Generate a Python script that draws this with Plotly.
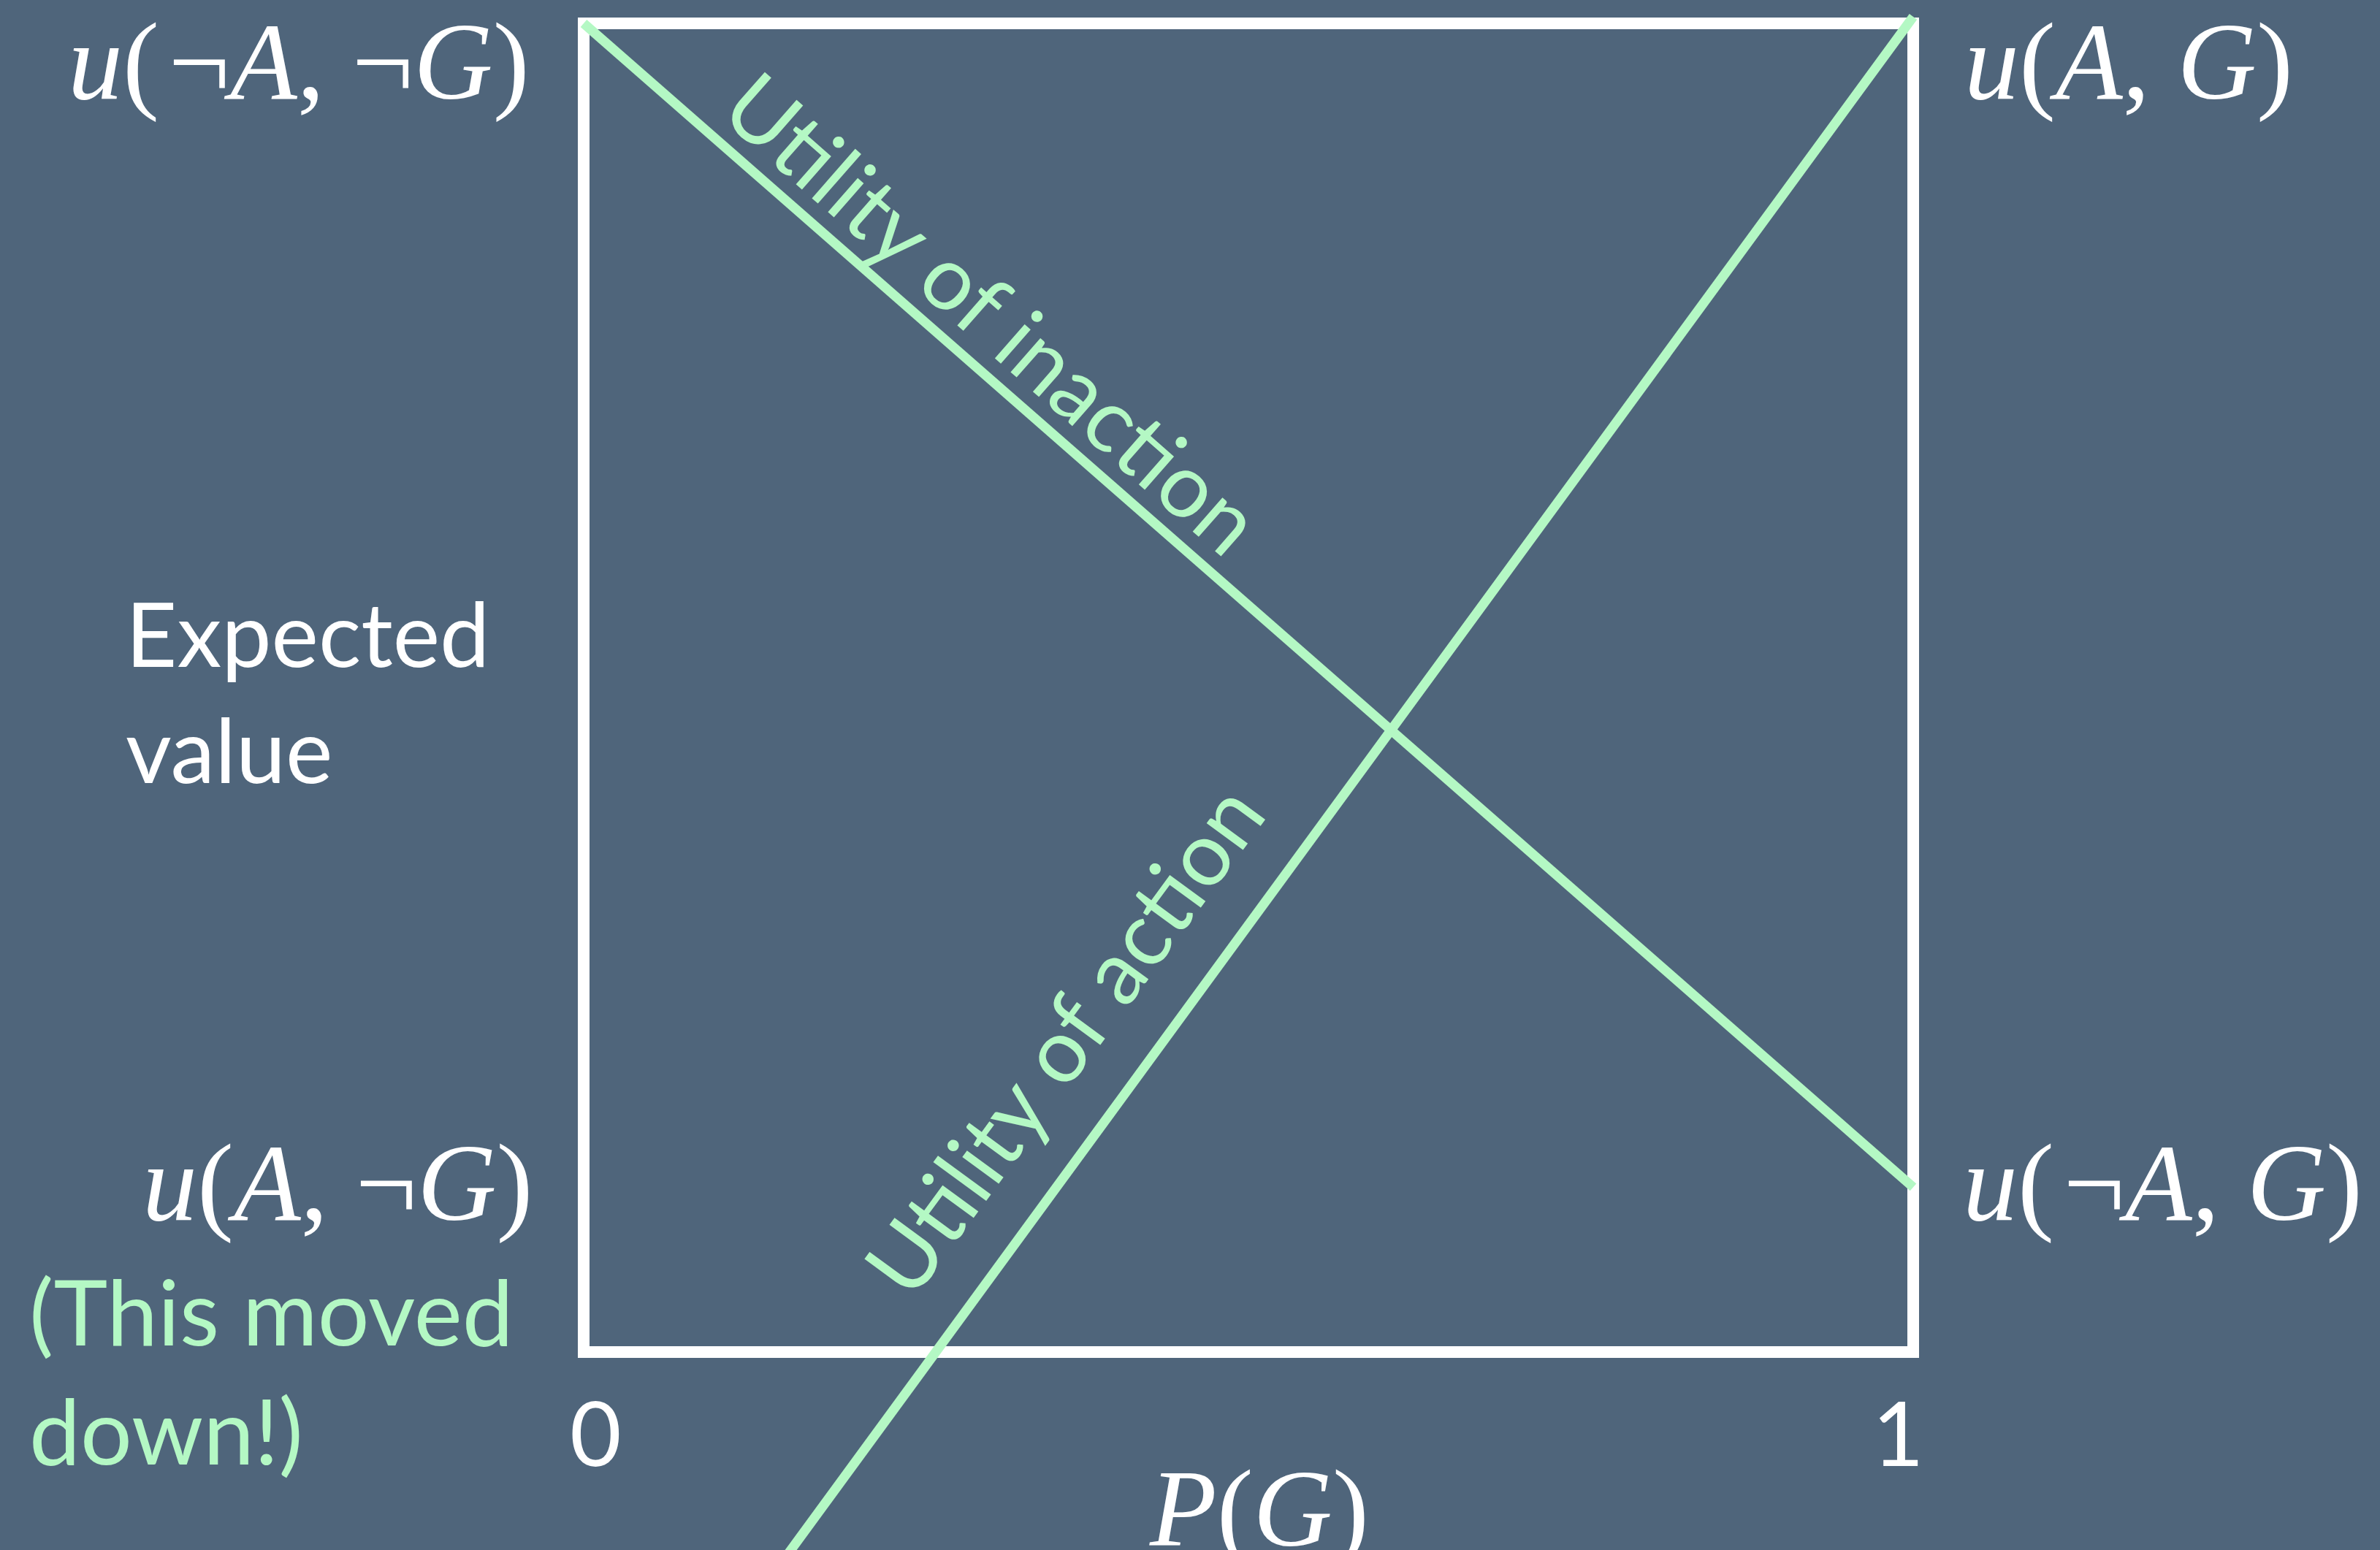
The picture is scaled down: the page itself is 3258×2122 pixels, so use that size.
import math
import plotly.graph_objects as go

# ---------------- data ----------------
p_g = [0, 1]                         # P(G) at the two ends of the box
utility_inaction = [1.0, 0.124]      # u(¬A,¬G) -> u(¬A,G)
utility_action = [-0.362, 1.005]     # u(A,¬G) (moved down) -> u(A,G)
label_level_low = 0.124              # height where u(A,¬G) / u(¬A,G) labels sit
x_tick_vals = [0, 1]
x_tick_labels = ["0", "1"]

# ---------------- layout geometry ----------------
W, H = 3258, 2122
BOX_L, BOX_R, BOX_T, BOX_B = 799, 2619, 32, 1851
sx = BOX_R - BOX_L
sy = BOX_B - BOX_T
x_range = [-BOX_L / sx, (W - BOX_L) / sx]
y_range = [-(H - BOX_B) / sy, BOX_B / sy]

BG = "#4F657B"
GREEN = "#B4F8C4"
WHITE = "#FFFFFF"
SERIF = "Liberation Serif"
SANS = "Lato"
MATH_SIZE = 150
SANS_SIZE = 122
HS = "\u200a"  # hair space

fig = go.Figure()

fig.add_shape(type="rect", x0=0, y0=0, x1=1, y1=1, xref="x", yref="y",
              line=dict(color=WHITE, width=16), layer="below")

fig.add_trace(go.Scatter(x=p_g, y=utility_inaction, mode="lines",
                         line=dict(color=GREEN, width=13), hoverinfo="skip"))
fig.add_trace(go.Scatter(x=p_g, y=utility_action, mode="lines",
                         line=dict(color=GREEN, width=13), hoverinfo="skip"))

ann = []

def math_label(text, x, y, xanchor, xshift=0, yshift=0):
    ann.append(dict(text=text, x=x, y=y, xref="x", yref="y", showarrow=False,
                    xanchor=xanchor, yanchor="middle", xshift=xshift, yshift=yshift,
                    font=dict(family=SERIF, size=MATH_SIZE, color=WHITE)))

math_label(f"<i>u</i>({HS}¬<i>A</i>, ¬<i>G</i>)", 0, utility_inaction[0], "right", -72, -52)
math_label("<i>u</i>(<i>A</i>, <i>G</i>)", 1, 1, "left", 68, -52)
math_label(f"<i>u</i>({HS}¬<i>A</i>, <i>G</i>)", 1, utility_inaction[1], "left", 66, 6)
math_label("<i>u</i>(<i>A</i>, ¬<i>G</i>)", 0, label_level_low, "right", -68, 6)
math_label("<i>P</i>(<i>G</i>)", 0.508, 0, "center", 0, -214)

for v, t in zip(x_tick_vals, x_tick_labels):
    ann.append(dict(text=t, x=v, y=0, xref="x", yref="y", showarrow=False,
                    xanchor="center", yanchor="middle", xshift=16 if v == 0 else -21,
                    yshift=-109, font=dict(family=SANS, size=SANS_SIZE, color=WHITE)))

ann.append(dict(text="Expected<br>value", x=x_range[0], y=0.5, xref="x", yref="y",
                showarrow=False, xanchor="left", yanchor="middle", align="left",
                xshift=170, yshift=-4, font=dict(family=SANS, size=SANS_SIZE, color=WHITE)))
ann.append(dict(text="(This moved<br>down!)", x=x_range[0], y=0, xref="x", yref="y",
                showarrow=False, xanchor="left", yanchor="middle", align="left",
                xshift=38, yshift=-24, font=dict(family=SANS, size=SANS_SIZE + 3, color=GREEN)))

# rotated labels along the lines
ang_in = math.degrees(math.atan2((utility_inaction[0] - utility_inaction[1]) * sy, sx))
ang_ac = -math.degrees(math.atan2((utility_action[1] - utility_action[0]) * sy, sx))

def on_line(ys, t):
    return p_g[0] + t * (p_g[1] - p_g[0]), ys[0] + t * (ys[1] - ys[0])

xi, yi = on_line(utility_inaction, 0.28)
ann.append(dict(text="Utility of inaction", x=xi, y=yi, xref="x", yref="y", showarrow=False,
                textangle=ang_in, xanchor="center", yanchor="middle", xshift=52, yshift=51,
                font=dict(family=SANS, size=SANS_SIZE, color=GREEN)))
xa, ya = on_line(utility_action, 0.41)
ann.append(dict(text="Utility of action", x=xa, y=ya, xref="x", yref="y", showarrow=False,
                textangle=ang_ac, xanchor="center", yanchor="middle", xshift=-91, yshift=68,
                font=dict(family=SANS, size=SANS_SIZE, color=GREEN)))

fig.update_layout(
    width=W, height=H, margin=dict(l=0, r=0, t=0, b=0),
    paper_bgcolor=BG, plot_bgcolor=BG, showlegend=False, hovermode=False,
    xaxis=dict(range=x_range, visible=False, fixedrange=True),
    yaxis=dict(range=y_range, visible=False, fixedrange=True),
    annotations=ann,
)

fig.write_html("out.html", config={"displayModeBar": False},
               post_script="document.body.style.margin='0';document.body.style.overflow='hidden';")
